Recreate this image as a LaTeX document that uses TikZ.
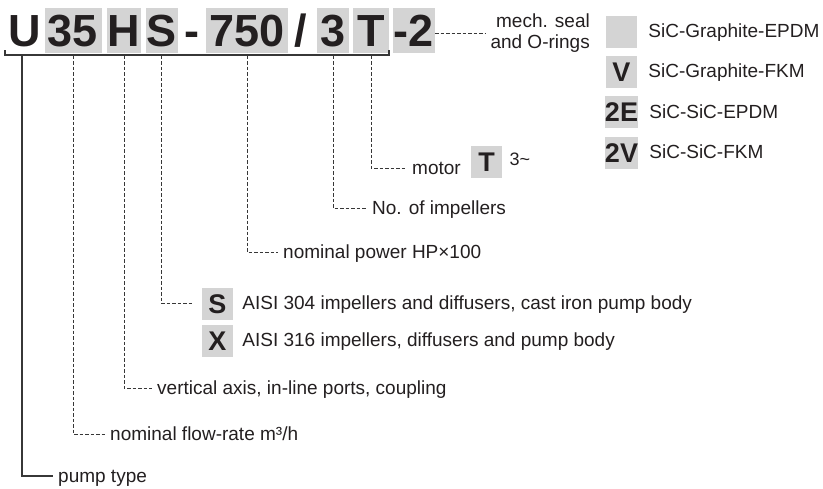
\documentclass[tikz,border=0pt]{standalone}
\usepackage{fontspec}
\setmainfont{Liberation Sans}
\usetikzlibrary{positioning}
\definecolor{codegray}{RGB}{212,212,212}
\definecolor{ink}{RGB}{35,31,32}
\definecolor{leadgray}{RGB}{55,55,55}

\begin{document}
\begin{tikzpicture}[x=1pt,y=-1pt,
  code/.style={text=ink,font=\fontsize{45}{45}\selectfont\bfseries,inner sep=0pt,text height=32pt,text depth=0pt,minimum height=45pt},
  cbox/.style={code,fill=codegray},
  key/.style={fill=codegray,text=ink,font=\fontsize{27}{27}\selectfont\bfseries,inner sep=0pt,text height=19pt,text depth=0pt,minimum width=31pt,minimum height=32pt},
  lbl/.style={anchor=west,text=ink,font=\fontsize{19}{23}\selectfont,inner xsep=5pt,inner ysep=0pt,text height=12pt,text depth=0pt},
  lead/.style={draw=leadgray,line width=0.8pt,dash pattern=on 3.5pt off 2pt},
  stem/.style={draw=leadgray,line width=1.1pt}]
\useasboundingbox (0,0) rectangle (823,488);

% type code
\node[code] (cU) at (25,30) {U};
\node[cbox,minimum width=57pt] (c35) at (73,30) {35};
\node[cbox,minimum width=34pt] (cH) at (124,30) {H};
\node[cbox,minimum width=32pt] (cS) at (161.5,30) {S};
\node[code] (cdash) at (192,30) {-};
\node[cbox,minimum width=82pt] (c750) at (247,30) {750};
\node[code] (cslash) at (301,30) {/};
\node[cbox,minimum width=32pt] (c3) at (333,30) {3};
\node[cbox,minimum width=36pt] (cT) at (371,30) {T};
\node[cbox,minimum width=42pt] (c2) at (414,30) {-2};

% bracket under the code
\coordinate (bl) at (5,55);
\coordinate (br) at (389,55);
\coordinate (pU) at (22,55);
\draw[stem] ([yshift=5pt]bl) -- (bl) -- (br) -- ([yshift=5pt]br);

% labels
\node[lbl] (lpump) at (53,476) {pump type};
\node[lbl] (lflow) at (105,434) {nominal flow-rate m³/h};
\node[lbl] (laxis) at (152,388) {vertical axis, in-line ports, coupling};
\node[key] (kS) at (217.5,303.5) {S};
\node[lbl,right=4pt of kS] (lS) {AISI 304 impellers and diffusers, cast iron pump body};
\node[key,below=5pt of kS] (kX) {X};
\node[lbl,right=4pt of kX] (lX) {AISI 316 impellers, diffusers and pump body};
\node[lbl] (lpower) at (278,252) {nominal power HP×100};
\node[lbl] (limp) at (367,208) {No. of impellers};
\node[lbl] (lmotor) at (407,168) {motor};
\node[key,right=5pt of lmotor,yshift=6pt] (kT) {T};
\node[lbl,font=\fontsize{18}{18}\selectfont,right=2pt of kT,yshift=3pt] (lphase) {3\textasciitilde};
\node[anchor=east,align=right,text=ink,font=\fontsize{19}{21}\selectfont,inner xsep=2pt] (lseal) at (592,33.5) {mech. seal\\and O-rings};

% seal variants
\node[key] (kEPDM) at (621.5,31.5) {};
\node[lbl,right=6pt of kEPDM] (lEPDM) {SiC-Graphite-EPDM};
\node[key,below=8pt of kEPDM] (kV) {V};
\node[lbl,right=6pt of kV] (lV) {SiC-Graphite-FKM};
\node[key,below=8pt of kV] (k2E) {2E};
\node[lbl,right=6pt of k2E] (l2E) {SiC-SiC-EPDM};
\node[key,below=8pt of k2E] (k2V) {2V};
\node[lbl,right=6pt of k2V] (l2V) {SiC-SiC-FKM};

% leaders
\draw[stem] (pU) |- (lpump.west);
\draw[lead] ([yshift=-3pt]c35.south) |- (lflow.west);
\draw[lead] ([yshift=-3pt]cH.south) |- (laxis.west);
\draw[lead,shorten >=10pt] ([yshift=-3pt]cS.south) |- (kS.west);
\draw[lead] ([yshift=-3pt]c750.south) |- (lpower.west);
\draw[lead] ([yshift=-3pt]c3.south) |- (limp.west);
\draw[lead] ([yshift=-3pt]cT.south) |- (lmotor.west);
\draw[lead,shorten >=3pt] (c2.east |- lseal.west) -- (lseal.west);
\end{tikzpicture}
\end{document}
